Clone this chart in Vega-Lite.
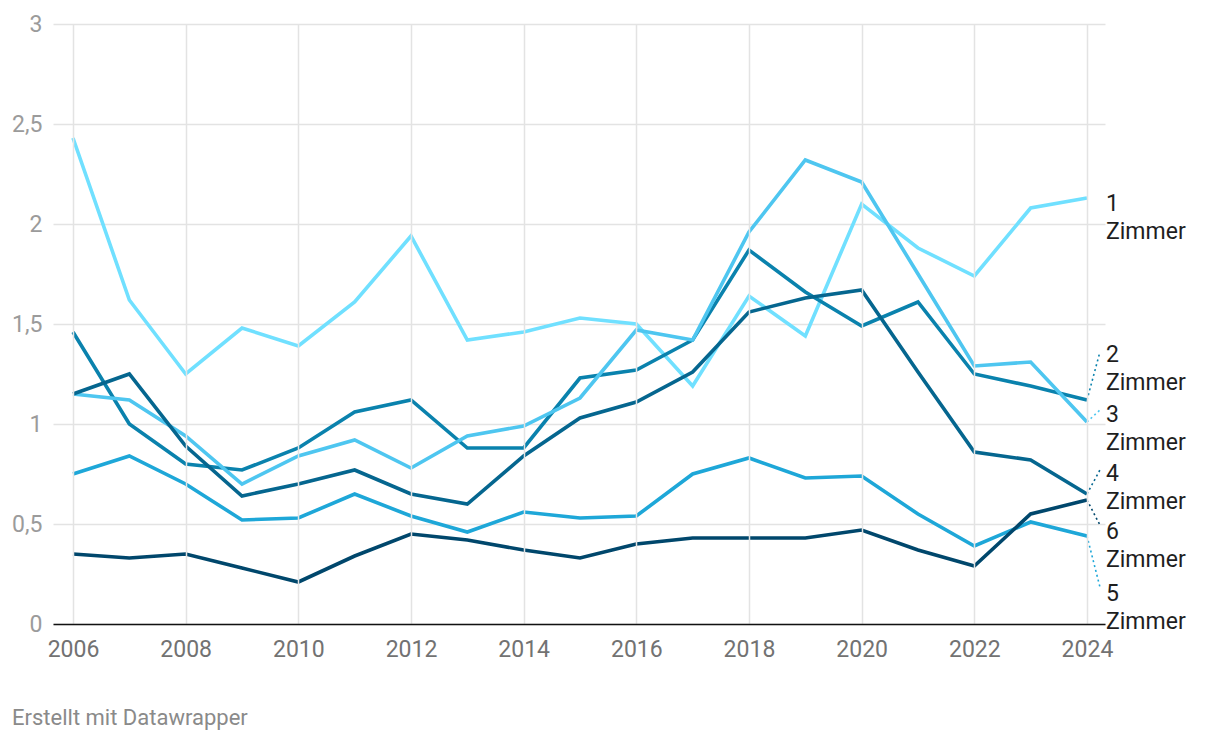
{
  "$schema": "https://vega.github.io/schema/vega-lite/v6.json",
  "width": 1052,
  "height": 600,
  "autosize": {"type": "none"},
  "padding": {"left": 53, "top": 24, "right": 115, "bottom": 116},
  "background": "white",
  "config": {
    "view": {"stroke": null},
    "font": "Roboto",
    "locale": {"number": {"decimal": ",", "thousands": ".", "grouping": [3], "currency": ["", " €"]}}
  },
  "title": {
    "text": "Erstellt mit Datawrapper",
    "orient": "bottom",
    "anchor": "start",
    "frame": "group",
    "dx": -41,
    "offset": 47,
    "fontSize": 22,
    "fontWeight": "normal",
    "color": "#8a8a8a",
    "font": "Roboto"
  },
  "datasets": {
    "lines": [
      {"year": 2006, "series": "1 Zimmer", "value": 2.43},
      {"year": 2007, "series": "1 Zimmer", "value": 1.62},
      {"year": 2008, "series": "1 Zimmer", "value": 1.25},
      {"year": 2009, "series": "1 Zimmer", "value": 1.48},
      {"year": 2010, "series": "1 Zimmer", "value": 1.39},
      {"year": 2011, "series": "1 Zimmer", "value": 1.61},
      {"year": 2012, "series": "1 Zimmer", "value": 1.94},
      {"year": 2013, "series": "1 Zimmer", "value": 1.42},
      {"year": 2014, "series": "1 Zimmer", "value": 1.46},
      {"year": 2015, "series": "1 Zimmer", "value": 1.53},
      {"year": 2016, "series": "1 Zimmer", "value": 1.50},
      {"year": 2017, "series": "1 Zimmer", "value": 1.19},
      {"year": 2018, "series": "1 Zimmer", "value": 1.64},
      {"year": 2019, "series": "1 Zimmer", "value": 1.44},
      {"year": 2020, "series": "1 Zimmer", "value": 2.10},
      {"year": 2021, "series": "1 Zimmer", "value": 1.88},
      {"year": 2022, "series": "1 Zimmer", "value": 1.74},
      {"year": 2023, "series": "1 Zimmer", "value": 2.08},
      {"year": 2024, "series": "1 Zimmer", "value": 2.13},
      {"year": 2006, "series": "2 Zimmer", "value": 1.46},
      {"year": 2007, "series": "2 Zimmer", "value": 1.00},
      {"year": 2008, "series": "2 Zimmer", "value": 0.80},
      {"year": 2009, "series": "2 Zimmer", "value": 0.77},
      {"year": 2010, "series": "2 Zimmer", "value": 0.88},
      {"year": 2011, "series": "2 Zimmer", "value": 1.06},
      {"year": 2012, "series": "2 Zimmer", "value": 1.12},
      {"year": 2013, "series": "2 Zimmer", "value": 0.88},
      {"year": 2014, "series": "2 Zimmer", "value": 0.88},
      {"year": 2015, "series": "2 Zimmer", "value": 1.23},
      {"year": 2016, "series": "2 Zimmer", "value": 1.27},
      {"year": 2017, "series": "2 Zimmer", "value": 1.42},
      {"year": 2018, "series": "2 Zimmer", "value": 1.87},
      {"year": 2019, "series": "2 Zimmer", "value": 1.66},
      {"year": 2020, "series": "2 Zimmer", "value": 1.49},
      {"year": 2021, "series": "2 Zimmer", "value": 1.61},
      {"year": 2022, "series": "2 Zimmer", "value": 1.25},
      {"year": 2023, "series": "2 Zimmer", "value": 1.19},
      {"year": 2024, "series": "2 Zimmer", "value": 1.12},
      {"year": 2006, "series": "3 Zimmer", "value": 1.15},
      {"year": 2007, "series": "3 Zimmer", "value": 1.12},
      {"year": 2008, "series": "3 Zimmer", "value": 0.94},
      {"year": 2009, "series": "3 Zimmer", "value": 0.70},
      {"year": 2010, "series": "3 Zimmer", "value": 0.84},
      {"year": 2011, "series": "3 Zimmer", "value": 0.92},
      {"year": 2012, "series": "3 Zimmer", "value": 0.78},
      {"year": 2013, "series": "3 Zimmer", "value": 0.94},
      {"year": 2014, "series": "3 Zimmer", "value": 0.99},
      {"year": 2015, "series": "3 Zimmer", "value": 1.13},
      {"year": 2016, "series": "3 Zimmer", "value": 1.47},
      {"year": 2017, "series": "3 Zimmer", "value": 1.42},
      {"year": 2018, "series": "3 Zimmer", "value": 1.96},
      {"year": 2019, "series": "3 Zimmer", "value": 2.32},
      {"year": 2020, "series": "3 Zimmer", "value": 2.21},
      {"year": 2021, "series": "3 Zimmer", "value": 1.75},
      {"year": 2022, "series": "3 Zimmer", "value": 1.29},
      {"year": 2023, "series": "3 Zimmer", "value": 1.31},
      {"year": 2024, "series": "3 Zimmer", "value": 1.01},
      {"year": 2006, "series": "4 Zimmer", "value": 1.15},
      {"year": 2007, "series": "4 Zimmer", "value": 1.25},
      {"year": 2008, "series": "4 Zimmer", "value": 0.89},
      {"year": 2009, "series": "4 Zimmer", "value": 0.64},
      {"year": 2010, "series": "4 Zimmer", "value": 0.70},
      {"year": 2011, "series": "4 Zimmer", "value": 0.77},
      {"year": 2012, "series": "4 Zimmer", "value": 0.65},
      {"year": 2013, "series": "4 Zimmer", "value": 0.60},
      {"year": 2014, "series": "4 Zimmer", "value": 0.84},
      {"year": 2015, "series": "4 Zimmer", "value": 1.03},
      {"year": 2016, "series": "4 Zimmer", "value": 1.11},
      {"year": 2017, "series": "4 Zimmer", "value": 1.26},
      {"year": 2018, "series": "4 Zimmer", "value": 1.56},
      {"year": 2019, "series": "4 Zimmer", "value": 1.63},
      {"year": 2020, "series": "4 Zimmer", "value": 1.67},
      {"year": 2021, "series": "4 Zimmer", "value": 1.26},
      {"year": 2022, "series": "4 Zimmer", "value": 0.86},
      {"year": 2023, "series": "4 Zimmer", "value": 0.82},
      {"year": 2024, "series": "4 Zimmer", "value": 0.65},
      {"year": 2006, "series": "5 Zimmer", "value": 0.75},
      {"year": 2007, "series": "5 Zimmer", "value": 0.84},
      {"year": 2008, "series": "5 Zimmer", "value": 0.70},
      {"year": 2009, "series": "5 Zimmer", "value": 0.52},
      {"year": 2010, "series": "5 Zimmer", "value": 0.53},
      {"year": 2011, "series": "5 Zimmer", "value": 0.65},
      {"year": 2012, "series": "5 Zimmer", "value": 0.54},
      {"year": 2013, "series": "5 Zimmer", "value": 0.46},
      {"year": 2014, "series": "5 Zimmer", "value": 0.56},
      {"year": 2015, "series": "5 Zimmer", "value": 0.53},
      {"year": 2016, "series": "5 Zimmer", "value": 0.54},
      {"year": 2017, "series": "5 Zimmer", "value": 0.75},
      {"year": 2018, "series": "5 Zimmer", "value": 0.83},
      {"year": 2019, "series": "5 Zimmer", "value": 0.73},
      {"year": 2020, "series": "5 Zimmer", "value": 0.74},
      {"year": 2021, "series": "5 Zimmer", "value": 0.55},
      {"year": 2022, "series": "5 Zimmer", "value": 0.39},
      {"year": 2023, "series": "5 Zimmer", "value": 0.51},
      {"year": 2024, "series": "5 Zimmer", "value": 0.44},
      {"year": 2006, "series": "6 Zimmer", "value": 0.35},
      {"year": 2007, "series": "6 Zimmer", "value": 0.33},
      {"year": 2008, "series": "6 Zimmer", "value": 0.35},
      {"year": 2009, "series": "6 Zimmer", "value": 0.28},
      {"year": 2010, "series": "6 Zimmer", "value": 0.21},
      {"year": 2011, "series": "6 Zimmer", "value": 0.34},
      {"year": 2012, "series": "6 Zimmer", "value": 0.45},
      {"year": 2013, "series": "6 Zimmer", "value": 0.42},
      {"year": 2014, "series": "6 Zimmer", "value": 0.37},
      {"year": 2015, "series": "6 Zimmer", "value": 0.33},
      {"year": 2016, "series": "6 Zimmer", "value": 0.40},
      {"year": 2017, "series": "6 Zimmer", "value": 0.43},
      {"year": 2018, "series": "6 Zimmer", "value": 0.43},
      {"year": 2019, "series": "6 Zimmer", "value": 0.43},
      {"year": 2020, "series": "6 Zimmer", "value": 0.47},
      {"year": 2021, "series": "6 Zimmer", "value": 0.37},
      {"year": 2022, "series": "6 Zimmer", "value": 0.29},
      {"year": 2023, "series": "6 Zimmer", "value": 0.55},
      {"year": 2024, "series": "6 Zimmer", "value": 0.62}
    ],
    "connectors": [
      {"series": "2 Zimmer", "year": 2024, "value": 1.12},
      {"series": "2 Zimmer", "year": 2024.23, "value": 1.36},
      {"series": "3 Zimmer", "year": 2024, "value": 1.01},
      {"series": "3 Zimmer", "year": 2024.23, "value": 1.07},
      {"series": "4 Zimmer", "year": 2024, "value": 0.65},
      {"series": "4 Zimmer", "year": 2024.23, "value": 0.77},
      {"series": "6 Zimmer", "year": 2024, "value": 0.62},
      {"series": "6 Zimmer", "year": 2024.23, "value": 0.495},
      {"series": "5 Zimmer", "year": 2024, "value": 0.44},
      {"series": "5 Zimmer", "year": 2024.23, "value": 0.185}
    ],
    "labels": [
      {"series": "1 Zimmer", "year": 2024, "label": "1\nZimmer", "labelValue": 2.065},
      {"series": "2 Zimmer", "year": 2024, "label": "2\nZimmer", "labelValue": 1.31},
      {"series": "3 Zimmer", "year": 2024, "label": "3\nZimmer", "labelValue": 1.01},
      {"series": "4 Zimmer", "year": 2024, "label": "4\nZimmer", "labelValue": 0.715},
      {"series": "6 Zimmer", "year": 2024, "label": "6\nZimmer", "labelValue": 0.425},
      {"series": "5 Zimmer", "year": 2024, "label": "5\nZimmer", "labelValue": 0.115}
    ]
  },
  "layer": [
    {
      "data": {"name": "lines"},
      "mark": {"type": "line", "strokeWidth": 3.6, "strokeJoin": "miter", "strokeCap": "butt"},
      "encoding": {
        "x": {
          "field": "year", "type": "quantitative",
          "scale": {"domain": [2005.645, 2024.32], "nice": false, "zero": false},
          "axis": {
            "title": null,
            "values": [2006, 2008, 2010, 2012, 2014, 2016, 2018, 2020, 2022, 2024],
            "format": "d",
            "grid": true, "gridColor": "#e3e3e3", "gridWidth": 1.5,
            "ticks": false,
            "domain": true, "domainColor": "#111111", "domainWidth": 1.5,
            "labelFontSize": 23, "labelColor": "#727272", "labelFont": "Roboto",
            "labelPadding": 14, "labelFlush": false,
            "zindex": 1
          }
        },
        "y": {
          "field": "value", "type": "quantitative",
          "scale": {"domain": [0, 3], "nice": false},
          "axis": {
            "title": null,
            "values": [0, 0.5, 1, 1.5, 2, 2.5, 3],
            "format": ".1~f",
            "grid": true, "gridColor": "#e3e3e3", "gridWidth": 1.5,
            "ticks": false, "domain": false,
            "labelFontSize": 23, "labelColor": "#9b9b9b", "labelFont": "Roboto",
            "labelPadding": 11
          }
        },
        "color": {
          "field": "series", "type": "nominal", "legend": null,
          "scale": {
            "domain": ["1 Zimmer", "2 Zimmer", "3 Zimmer", "4 Zimmer", "5 Zimmer", "6 Zimmer"],
            "range": ["#70e0ff", "#0a82ad", "#4ec6f0", "#05668f", "#1ea7d8", "#00476c"]
          }
        },
        "order": {"field": "year"}
      }
    },
    {
      "data": {"name": "connectors"},
      "mark": {"type": "line", "strokeWidth": 1.6, "strokeDash": [2, 3]},
      "encoding": {
        "x": {"field": "year", "type": "quantitative"},
        "y": {"field": "value", "type": "quantitative"},
        "color": {"field": "series", "type": "nominal", "legend": null},
        "detail": {"field": "series"}
      }
    },
    {
      "data": {"name": "labels"},
      "mark": {"type": "text", "align": "left", "baseline": "alphabetic", "dx": 19, "fontSize": 23, "lineBreak": "\n", "lineHeight": 28, "color": "#1e1e1e", "font": "Roboto"},
      "encoding": {
        "x": {"field": "year", "type": "quantitative"},
        "y": {"field": "labelValue", "type": "quantitative"},
        "text": {"field": "label"}
      }
    }
  ]
}
